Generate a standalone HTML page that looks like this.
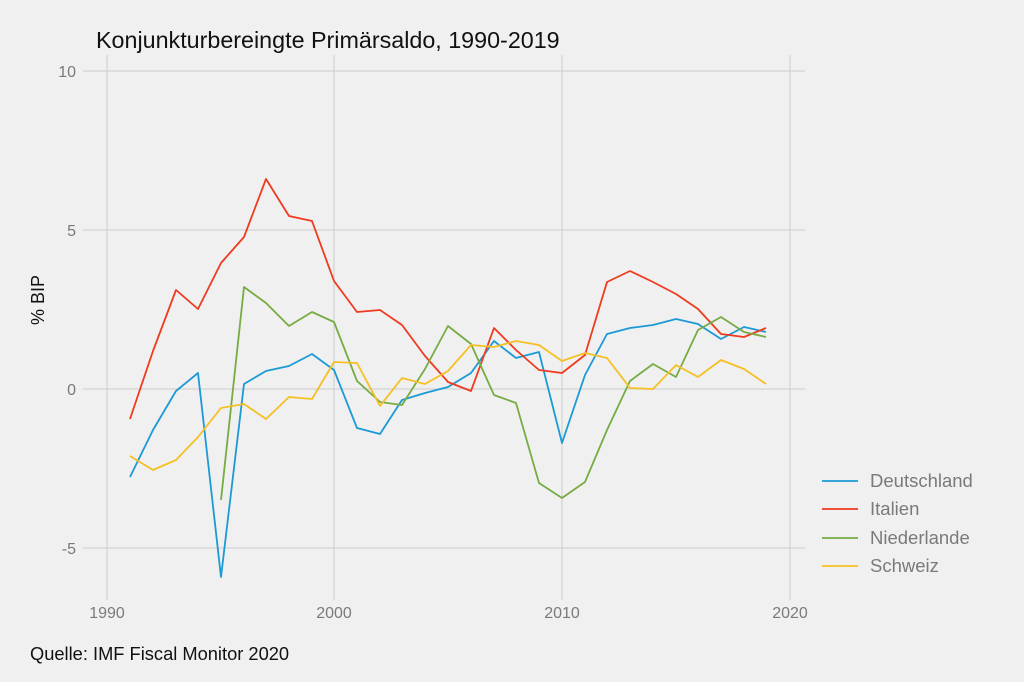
<!DOCTYPE html>
<html><head><meta charset="utf-8"><style>
html,body{margin:0;padding:0;background:#f0f0f0;}
svg{display:block;font-family:"Liberation Sans",sans-serif;}
</style></head><body>
<svg width="1024" height="682" viewBox="0 0 1024 682" xmlns="http://www.w3.org/2000/svg">
<rect width="1024" height="682" fill="#f0f0f0"/>
<g stroke="#d2d2d2" stroke-width="1.2">
<line x1="83" x2="805" y1="71" y2="71"/><line x1="83" x2="805" y1="230" y2="230"/>
<line x1="83" x2="805" y1="389" y2="389"/><line x1="83" x2="805" y1="548" y2="548"/>
<line x1="107" x2="107" y1="55" y2="600"/><line x1="334" x2="334" y1="55" y2="600"/>
<line x1="562" x2="562" y1="55" y2="600"/><line x1="790" x2="790" y1="55" y2="600"/>
</g>
<g fill="#7a7a7a" font-size="16" text-anchor="end">
<text x="76" y="77">10</text><text x="76" y="236">5</text><text x="76" y="395">0</text><text x="76" y="554">-5</text>
</g>
<g fill="#7a7a7a" font-size="16" text-anchor="middle">
<text x="107" y="618">1990</text><text x="334" y="618">2000</text><text x="562" y="618">2010</text><text x="790" y="618">2020</text>
</g>
<text x="96" y="48" font-size="23.3" fill="#111">Konjunkturbereingte Primärsaldo, 1990-2019</text>
<text transform="translate(44,300) rotate(-90)" font-size="18" fill="#111" text-anchor="middle">% BIP</text>
<text x="30" y="660" font-size="18.3" fill="#111">Quelle: IMF Fiscal Monitor 2020</text>
<g fill="none" stroke-width="1.8" stroke-linejoin="round">
<polyline stroke="#1b9ad6" points="130,477 153,430 176,391 198,373 221,577 244,384 266,371 289,366 312,354 334,370 357,428 380,434 402,400 425,393 448,387 471,373 494,341 516,358 539,352 562,443 585,375 607,334 630,328 653,325 676,319 698,324 721,339 744,327 766,332"/>
<polyline stroke="#f03a1f" points="130,419 153,351 176,290 198,309 221,263 244,237 266,179 289,216 312,221 334,281 357,312 380,310 402,325 425,356 448,382 471,391 494,328 516,350 539,370 562,373 585,355 607,282 630,271 653,282 676,294 698,309 721,334 744,337 766,328"/>
<polyline stroke="#77ab43" points="221,500 244,287 266,303 289,326 312,312 334,322 357,381 380,402 402,405 425,369 448,326 471,344 494,395 516,403 539,483 562,498 585,482 607,430 630,381 653,364 676,377 698,330 721,317 744,332 766,337"/>
<polyline stroke="#f5c024" points="130,456 153,470 176,460 198,437 221,408 244,404 266,419 289,397 312,399 334,362 357,363 380,406 402,378 425,384 448,371 471,345 494,347 516,341 539,345 562,361 585,353 607,358 630,388 653,389 676,365 698,377 721,360 744,369 766,384"/>
</g>
<g stroke-width="1.8">
<line x1="822" x2="858" y1="481" y2="481" stroke="#1b9ad6"/>
<line x1="822" x2="858" y1="509" y2="509" stroke="#f03a1f"/>
<line x1="822" x2="858" y1="538" y2="538" stroke="#77ab43"/>
<line x1="822" x2="858" y1="566" y2="566" stroke="#f5c024"/>
</g>
<g fill="#7a7a7a" font-size="18.5">
<text x="870" y="487">Deutschland</text><text x="870" y="515">Italien</text>
<text x="870" y="544">Niederlande</text><text x="870" y="572">Schweiz</text>
</g>
</svg>
</body></html>
